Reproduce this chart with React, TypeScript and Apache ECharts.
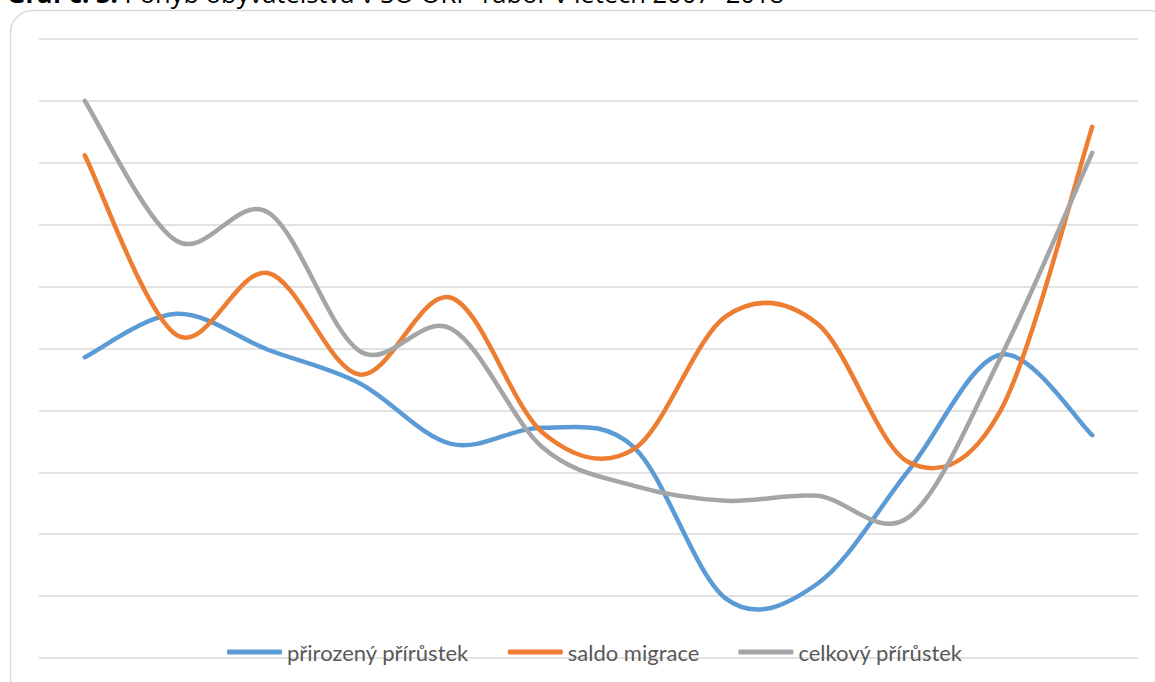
import React, { useEffect, useRef } from "react";
import * as echarts from "echarts";

const years = ["2007", "2008", "2009", "2010", "2011", "2012", "2013", "2014", "2015", "2016", "2017", "2018"];
const prirozenyPrirustek = [43, 78, 49, 22, -27, -14, -30, -152, -140, -48, 45, -20];
const saldoMigrace = [206, 61, 111, 29, 91, -18, -31, 76, 70, -42, 0, 229];
const celkovyPrirustek = [250, 137, 160, 48, 66, -30, -61, -73, -69, -86, 43, 208];
const seriesNames = ["přirozený přírůstek", "saldo migrace", "celkový přírůstek"];
const colors = ["#5B9BD5", "#ED7D31", "#A5A5A5"];
const titleBold = "Graf č. 3:";
const titleRest = " Pohyb obyvatelstva v SO ORP Tábor v letech 2007- 2018";

// Excel-like smoothed line (cardinal spline through every data point), drawn via the axis scales
function makeRenderItem(values: number[], color: string) {
  return (params: any, api: any) => {
    if (params.dataIndex !== 0) return null;
    const pts = values.map((v, j) => api.coord([j, v]));
    const n = pts.length;
    let d = `M${pts[0][0]},${pts[0][1]}`;
    for (let i = 0; i < n - 1; i++) {
      const p0 = pts[Math.max(i - 1, 0)];
      const p1 = pts[i];
      const p2 = pts[i + 1];
      const p3 = pts[Math.min(i + 2, n - 1)];
      const c1x = p1[0] + (p2[0] - p0[0]) / 6;
      const c1y = p1[1] + (p2[1] - p0[1]) / 6;
      const c2x = p2[0] - (p3[0] - p1[0]) / 6;
      const c2y = p2[1] - (p3[1] - p1[1]) / 6;
      d += ` C${c1x},${c1y} ${c2x},${c2y} ${p2[0]},${p2[1]}`;
    }
    return {
      type: "path",
      shape: { pathData: d },
      style: { fill: "none", stroke: color, lineWidth: 4.5, lineCap: "round", lineJoin: "round" },
    };
  };
}

export default function App() {
  const ref = useRef<HTMLDivElement>(null);
  useEffect(() => {
    document.body.style.margin = "0";
    const chart = echarts.init(ref.current!, null, { renderer: "svg" });
    const data = [prirozenyPrirustek, saldoMigrace, celkovyPrirustek];
    chart.setOption({
      animation: false,
      backgroundColor: "#ffffff",
      grid: { left: 39, right: 17, top: 39, bottom: 24 },
      xAxis: {
        type: "category",
        data: years,
        boundaryGap: true,
        axisLine: { show: false },
        axisTick: { show: false },
        axisLabel: { show: false },
      },
      yAxis: {
        type: "value",
        min: -200,
        max: 300,
        interval: 50,
        axisLine: { show: false },
        axisTick: { show: false },
        axisLabel: { show: false },
        splitLine: { lineStyle: { color: "#D9D9D9", width: 1.5 } },
      },
      legend: {
        left: 222,
        top: 636,
        itemWidth: 55,
        itemHeight: 5,
        itemGap: 39,
        icon: "roundRect",
        textStyle: { color: "#595959", fontSize: 22, fontFamily: "Lato" },
        data: seriesNames,
      },
      series: seriesNames.map((name, i) => ({
        name,
        type: "custom",
        data: data[i].map((v, j) => [j, v]),
        encode: { x: 0, y: 1 },
        itemStyle: { color: colors[i] },
        renderItem: makeRenderItem(data[i], colors[i]),
      })),
      graphic: [
        {
          type: "rect",
          shape: { x: 10.5, y: 10.5, width: 1160, height: 700, r: 22 },
          style: { fill: "none", stroke: "#D9D9D9", lineWidth: 1.5 },
          silent: true,
          z: -1,
        },
        {
          type: "text",
          left: 7,
          top: -20,
          style: {
            text: "{b|" + titleBold + "}" + titleRest,
            fontSize: 25.5,
            fontFamily: "Open Sans",
            fill: "#000000",
            rich: { b: { fontWeight: "bold", fontSize: 25.5, fontFamily: "Open Sans", fill: "#000000" } },
          },
        },
      ],
    });
    return () => chart.dispose();
  }, []);
  return <div ref={ref} style={{ width: 1155, height: 682 }} />;
}
